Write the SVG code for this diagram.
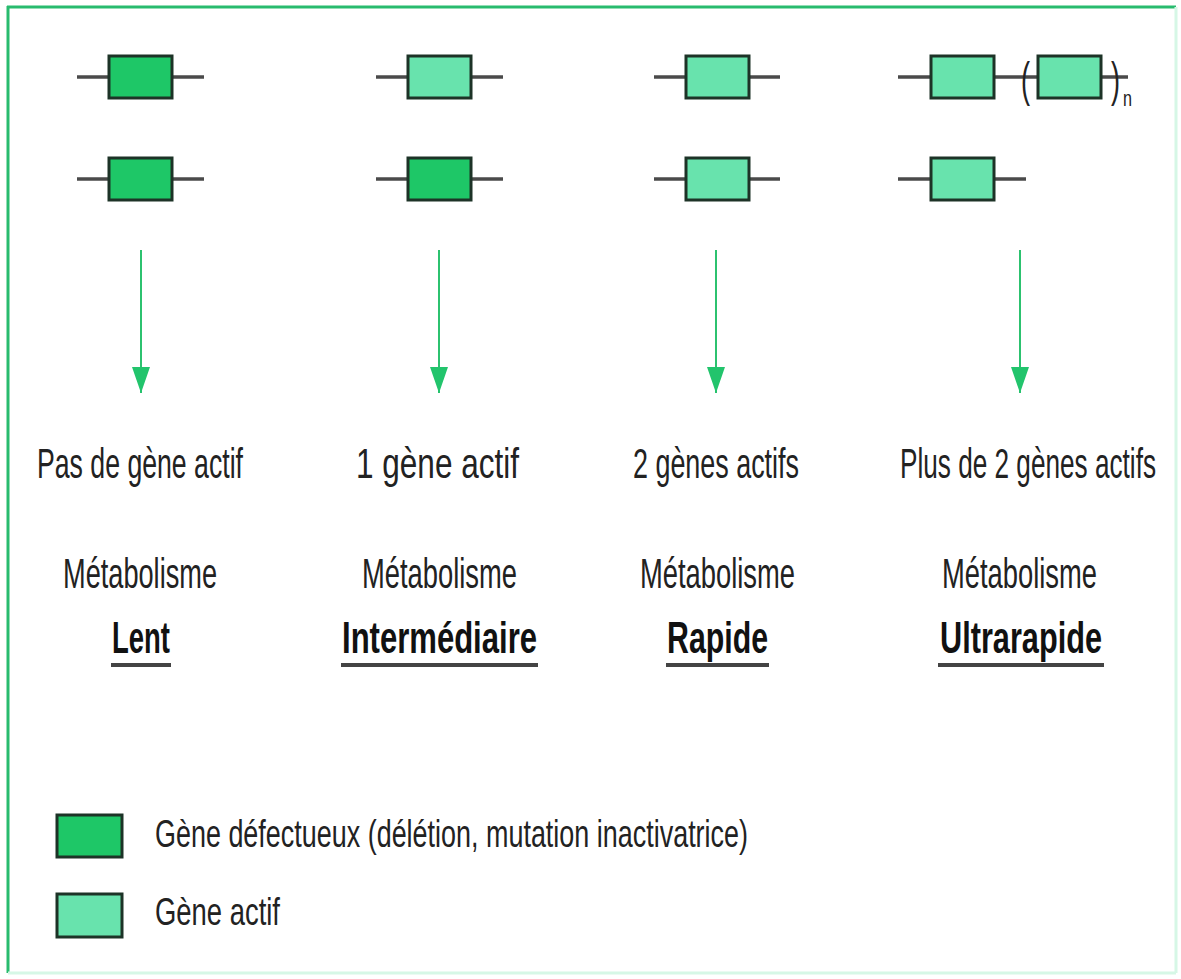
<svg xmlns="http://www.w3.org/2000/svg" width="1181" height="979" viewBox="0 0 1181 979">
<style>
.bg{fill:#ffffff}
.ln{stroke:#4a4a4a;stroke-width:3.5;fill:none}
.def{fill:#1ec767;stroke:#1d3327;stroke-width:3}
.act{fill:#68e3ad;stroke:#1d3327;stroke-width:3}
.arr{stroke:#2cc26f;stroke-width:2;fill:none}
.t{font-family:"Liberation Sans",Arial,sans-serif;font-size:43px;fill:#222;text-anchor:start}
.b{font-family:"Liberation Sans",Arial,sans-serif;font-size:44px;font-weight:bold;fill:#111;text-anchor:start}
.ul{stroke:#444;stroke-width:4}
.lg{font-family:"Liberation Sans",Arial,sans-serif;font-size:39px;fill:#222}
.par{font-family:"Liberation Sans",Arial,sans-serif;font-size:48px;fill:#222}
</style>
<defs>
<marker id="ah" markerUnits="userSpaceOnUse" markerWidth="28" markerHeight="20" refX="26" refY="9" orient="auto" viewBox="0 0 28 18">
<path d="M0,0 L26,9 L0,18 Z" fill="#22c46c"/>
</marker>
</defs>
<rect class="bg" x="0" y="0" width="1181" height="979"/>
<g id="frame">
<line x1="7" y1="7" x2="1176" y2="7" stroke="#28bb6e" stroke-width="3"/>
<line x1="8" y1="6" x2="8" y2="973" stroke="#28bb6e" stroke-width="3"/>
<line x1="1176" y1="7" x2="1176" y2="973" stroke="#d6f7e6" stroke-width="3"/>
<line x1="8" y1="973" x2="1176" y2="973" stroke="#d6f7e6" stroke-width="3"/>
</g>
<g id="col1-genes">
<line class="ln" x1="77" y1="77" x2="204" y2="77"/>
<rect class="def" x="109" y="56" width="63" height="42"/>
<line class="ln" x1="77" y1="179" x2="204" y2="179"/>
<rect class="def" x="109" y="158" width="63" height="42"/>
</g>
<g id="col2-genes">
<line class="ln" x1="376" y1="77" x2="503" y2="77"/>
<rect class="act" x="408" y="56" width="63" height="42"/>
<line class="ln" x1="376" y1="179" x2="503" y2="179"/>
<rect class="def" x="408" y="158" width="63" height="42"/>
</g>
<g id="col3-genes">
<line class="ln" x1="654" y1="77" x2="780" y2="77"/>
<rect class="act" x="686" y="56" width="63" height="42"/>
<line class="ln" x1="654" y1="179" x2="780" y2="179"/>
<rect class="act" x="686" y="158" width="63" height="42"/>
</g>
<g id="col4-genes">
<line class="ln" x1="898" y1="77" x2="1128" y2="77"/>
<rect class="act" x="931" y="56" width="63" height="42"/>
<rect class="act" x="1038" y="56" width="63" height="42"/>
<text class="par" x="1021" y="96" textLength="9" lengthAdjust="spacingAndGlyphs">(</text>
<text class="par" x="1111" y="96" textLength="9" lengthAdjust="spacingAndGlyphs">)</text>
<text x="1123" y="106" font-family="Liberation Sans, Arial, sans-serif" font-size="22" fill="#222" textLength="9" lengthAdjust="spacingAndGlyphs">n</text>
<line class="ln" x1="898" y1="179" x2="1026" y2="179"/>
<rect class="act" x="931" y="158" width="63" height="42"/>
</g>
<g id="connectors">
<line class="arr" x1="141" y1="250" x2="141" y2="393" marker-end="url(#ah)"/>
<line class="arr" x1="439" y1="250" x2="439" y2="393" marker-end="url(#ah)"/>
<line class="arr" x1="716" y1="250" x2="716" y2="393" marker-end="url(#ah)"/>
<line class="arr" x1="1020" y1="250" x2="1020" y2="393" marker-end="url(#ah)"/>
</g>
<g id="col1-label">
<text class="t" x="37" y="478" textLength="206" lengthAdjust="spacingAndGlyphs">Pas de gène actif</text>
<text class="t" x="63" y="588" textLength="154" lengthAdjust="spacingAndGlyphs">Métabolisme</text>
<text class="b" x="112" y="653" textLength="58" lengthAdjust="spacingAndGlyphs">Lent</text>
<line class="ul" x1="111" y1="665" x2="171" y2="665"/>
</g>
<g id="col2-label">
<text class="t" x="356" y="478" textLength="163" lengthAdjust="spacingAndGlyphs">1 gène actif</text>
<text class="t" x="362" y="588" textLength="155" lengthAdjust="spacingAndGlyphs">Métabolisme</text>
<text class="b" x="342" y="653" textLength="195" lengthAdjust="spacingAndGlyphs">Intermédiaire</text>
<line class="ul" x1="341" y1="665" x2="538" y2="665"/>
</g>
<g id="col3-label">
<text class="t" x="633" y="478" textLength="166" lengthAdjust="spacingAndGlyphs">2 gènes actifs</text>
<text class="t" x="640" y="588" textLength="155" lengthAdjust="spacingAndGlyphs">Métabolisme</text>
<text class="b" x="667" y="653" textLength="101" lengthAdjust="spacingAndGlyphs">Rapide</text>
<line class="ul" x1="666" y1="665" x2="769" y2="665"/>
</g>
<g id="col4-label">
<text class="t" x="900" y="478" textLength="256" lengthAdjust="spacingAndGlyphs">Plus de 2 gènes actifs</text>
<text class="t" x="942" y="588" textLength="155" lengthAdjust="spacingAndGlyphs">Métabolisme</text>
<text class="b" x="940" y="653" textLength="162" lengthAdjust="spacingAndGlyphs">Ultrarapide</text>
<line class="ul" x1="938" y1="665" x2="1104" y2="665"/>
</g>
<g id="legend-defective">
<rect class="def" x="57" y="815" width="65" height="42"/>
<text class="lg" x="155" y="847" textLength="593" lengthAdjust="spacingAndGlyphs">Gène défectueux (délétion, mutation inactivatrice)</text>
</g>
<g id="legend-active">
<rect class="act" x="57" y="894" width="65" height="43"/>
<text class="lg" x="155" y="925" textLength="125" lengthAdjust="spacingAndGlyphs">Gène actif</text>
</g>
</svg>
